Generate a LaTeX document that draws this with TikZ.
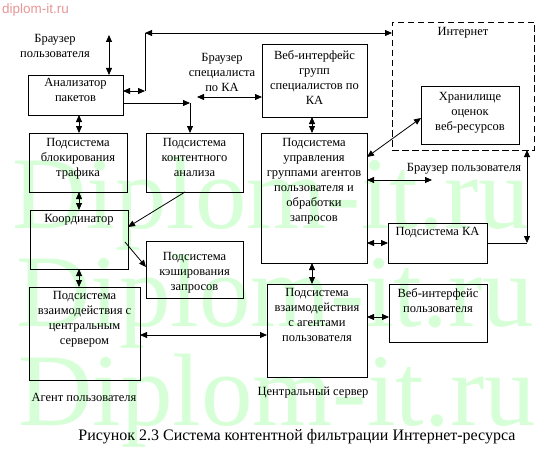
\documentclass[tikz,border=0pt]{standalone}
\usepackage{fontspec}
\setmainfont{Liberation Serif}
\newfontfamily\sansf{Liberation Sans}
\usetikzlibrary{arrows.meta}
\definecolor{wmgreen}{RGB}{215,255,215}
\definecolor{wmpink}{RGB}{232,150,150}
\newcommand\diafont{\fontsize{12.5}{15}\selectfont}
\begin{document}
\begin{tikzpicture}[x=1pt,y=-1pt,
  box/.style={draw, line width=0.9pt, inner sep=0pt, outer sep=0pt},
  lbl/.style={anchor=north, align=center, font=\diafont, inner sep=0pt},
  free/.style={align=center, font=\diafont, inner sep=0pt},
  conn/.style={line width=0.8pt},
  dbl/.style={conn, {Triangle[length=7pt,width=6pt]}-{Triangle[length=7pt,width=6pt]}},
  one/.style={conn, -{Triangle[length=7pt,width=6pt]}},
  wm/.style={anchor=base west, inner sep=0pt, text=wmgreen, font=\fontsize{103}{103}\selectfont},
]
\useasboundingbox (0,0) rectangle (557,460);
% watermark
\node[wm] (wm1) at (12,228) {Diplom-it.ru};
\node[wm] (wm2) at (16,326) {Diplom-it.ru};
\node[wm] (wm3) at (18,425) {Diplom-it.ru};
\node[anchor=west, inner sep=0pt, text=wmpink, font=\sansf\fontsize{13.5}{14}\selectfont] (wmt) at (2,10) {diplom-it.ru};

% boxes
\node[box, minimum width=95pt, minimum height=40pt, label={[lbl, yshift=-3.5pt]north:{Анализатор\\пакетов}}] (an) at (75.5,95) {};
\node[box, minimum width=98pt, minimum height=59pt, label={[lbl, yshift=-5.5pt]north:{Подсистема\\блокирования\\трафика}}] (blk) at (78,162.5) {};
\node[box, minimum width=97pt, minimum height=59pt, label={[lbl, yshift=-5.5pt]north:{Подсистема\\контентного\\анализа}}] (cnt) at (194.5,162.5) {};
\node[box, minimum width=98pt, minimum height=59pt, label={[lbl, yshift=-4.5pt]north:{Координатор}}] (crd) at (79,239.5) {};
\node[box, minimum width=97pt, minimum height=57pt, label={[lbl, yshift=-11.5pt]north:{Подсистема\\кэширования\\запросов}}] (cch) at (194.5,269.5) {};
\node[box, minimum width=111pt, minimum height=93pt, label={[lbl, yshift=-4.5pt]north:{Подсистема\\взаимодействия с\\центральным\\сервером}}] (csv) at (84.5,333.5) {};
\node[box, minimum width=105pt, minimum height=73pt, label={[lbl, yshift=-6.5pt]north:{Веб-интерфейс\\групп\\специалистов по\\КА}}] (wgr) at (314.5,80.5) {};
\node[box, minimum width=106pt, minimum height=130pt, label={[lbl, yshift=-5.5pt]north:{Подсистема\\управления\\группами агентов\\пользователя и\\обработки\\запросов}}] (mgr) at (314,198) {};
\node[box, minimum width=100pt, minimum height=93pt, label={[lbl, yshift=-4.5pt]north:{Подсистема\\взаимодействия\\с агентами\\пользователя}}] (agt) at (317,330.5) {};
\node[box, minimum width=98pt, minimum height=58pt, label={[lbl, yshift=-4.5pt]north:{Веб-интерфейс\\пользователя}}] (wus) at (438,313) {};
\node[box, minimum width=99pt, minimum height=40pt, label={[lbl, yshift=-4.5pt]north:{Подсистема КА}}] (ka) at (437.5,243) {};
\node[box, dash pattern=on 6.5pt off 3.5pt, line width=0.9pt, minimum width=142pt, minimum height=128pt, label={[lbl, yshift=-5.5pt]north:{Интернет}}] (inet) at (463,86) {};
\node[box, minimum width=98pt, minimum height=58pt, label={[lbl, yshift=-6.5pt]north:{Хранилище\\оценок\\веб-ресурсов}}] (sto) at (470,115) {};

% free labels
\node[free] (lbu) at (55,46) {Браузер\\пользователя};
\node[free] (lbs) at (222,72.5) {Браузер\\специалиста\\по КА};
\node[free] (lbr) at (464,169) {Браузер пользователя};
\node[free] (lag) at (84,397) {Агент пользователя};
\node[free] (lcs) at (313,393) {Центральный сервер};
\node[inner sep=0pt, font=\fontsize{16}{18}\selectfont] (cap) at (297,437) {Рисунок 2.3 Система контентной фильтрации Интернет-ресурса};

% coordinates
\coordinate (bu) at (109,35);
\coordinate (c1) at (145,91);
\coordinate (c1t) at (145,33);
\coordinate (c2) at (190,103);
\coordinate (bs) at (197,97);
\coordinate (br) at (432,180);
\coordinate (c5) at (527,243);

% connectors
\draw[dbl] (bu) -- (bu |- an.north);
\draw[dbl] (an.east |- c1) -- (c1);
\draw[conn] (c1) -- (c1t);
\draw[dbl] (c1t) -- (c1t -| inet.west);
\draw[one] (an.east |- c2) -- (c2);
\draw[one] (c2) -- (c2 |- cnt.north);
\draw[dbl] (bs) -- (bs -| wgr.west);
\draw[dbl] (79,115) coordinate (a1) -- (a1 |- blk.north);
\draw[dbl] (79,192) coordinate (a2) -- (a2 |- crd.north);
\draw[one] (185,192) coordinate (a3) -- (crd.east |- 0,227);
\draw[one] (125,242) coordinate (a4) -- (cch.west |- 0,267);
\draw[dbl] (79,269) coordinate (a5) -- (a5 |- csv.north);
\draw[dbl] (csv.east |- 0,335) coordinate (a6) -- (a6 -| agt.west);
\draw[dbl] (312,117) coordinate (a7) -- (a7 |- mgr.north);
\draw[dbl] (mgr.east |- 0,157) coordinate (a8) -- (sto.west |- 0,118);
\draw[dbl] (mgr.east |- br) -- (br);
\draw[dbl] (mgr.east |- c5) -- (ka.west |- c5);
\draw[conn] (ka.east |- c5) -- (c5);
\draw[dbl] (c5) -- (c5 |- inet.south);
\draw[dbl] (312,263) coordinate (a9) -- (a9 |- agt.north);
\draw[dbl] (agt.east |- 0,317) coordinate (a10) -- (a10 -| wus.west);
\end{tikzpicture}
\end{document}
